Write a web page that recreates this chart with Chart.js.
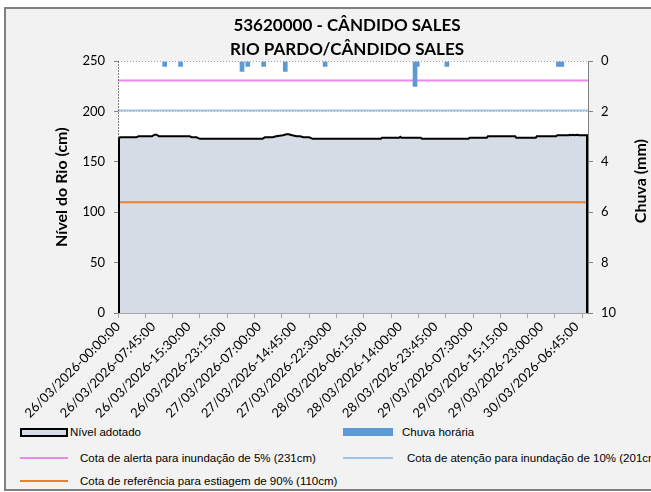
<!DOCTYPE html>
<html><head><meta charset="utf-8">
<script src="https://cdn.jsdelivr.net/npm/chart.js@4"></script>
<style>
body{margin:0;background:#fff;width:651px;height:492px;overflow:hidden;position:relative;font-family:Lato,sans-serif}
#frame{position:absolute;left:4px;top:7px;width:700px;height:480px;border:2px solid #808080;background:#f2f2f2}
#wrap{position:absolute;left:0;top:0;width:694px;height:420px}
.lg{position:absolute;font-family:'Liberation Sans Narrow','Liberation Sans',Arial,sans-serif;font-size:11.5px;color:#000;white-space:nowrap;line-height:12px}
.sw{position:absolute;box-sizing:border-box}
</style></head><body>
<div id="frame"></div>
<div id="wrap"><canvas id="c" width="694" height="420"></canvas></div>
<div id="legend"></div>
<script>
// ---- data ----
const titleLines = ['53620000 - CÂNDIDO SALES', 'RIO PARDO/CÂNDIDO SALES'];
const tickLabels = ['26/03/2026-00:00:00','26/03/2026-07:45:00','26/03/2026-15:30:00','26/03/2026-23:15:00',
  '27/03/2026-07:00:00','27/03/2026-14:45:00','27/03/2026-22:30:00','28/03/2026-06:15:00','28/03/2026-14:00:00',
  '28/03/2026-23:45:00','29/03/2026-07:30:00','29/03/2026-15:15:00','29/03/2026-23:00:00','30/03/2026-06:45:00'];
const labelEvery = 31;      // a label every 31 readings (15-min readings)
const tickMarkEvery = 24;   // a tick mark every 24 readings
const lastIndex = 413;      // index of the last reading

// river level (cm): reading index -> value, at the vertices of the drawn line
const levelIdx = [0,2,16,18,30,32,34,36,63,65,69,72,127,129,136,139,145,148,150,153,157,160,163,168,171,
  231,232,247,248,249,266,267,308,309,324,325,349,350,367,368,385,386,396,397,398,400,401,404,405,413];
const levelVal = [173,174.5,174.5,175.5,175.5,177,177,175.5,175.5,174.5,174.5,173,173,174.5,174.5,175.5,176.5,177.5,177.5,176.5,175.5,175.5,174.5,174.5,173,
  173,174,174,175,174,174,173,173,174,174,175.5,175.5,174,174,175.5,175.5,176.5,176.5,177,176.5,177,176.5,177,176.5,176.5];

// hourly rain (mm)
const rainIdx = [41,55,109,114,128,147,182,261,263,289,387,390];
const rainVal = [0.2,0.2,0.4,0.2,0.2,0.4,0.2,1.0,0.2,0.2,0.2,0.2];

const alertLevel = 231, attentionLevel = 201, droughtLevel = 110;

const legendNames = ['Nível adotado','Chuva horária','Cota de alerta para inundação de 5% (231cm)',
  'Cota de atenção para inundação de 10% (201cm)','Cota de referência para estiagem de 90% (110cm)'];

const C = {area:'#d6dce5', rain:'#5b9bd5', alert:'#ef87ef', attention:'#9dc3e6', drought:'#ed7d31'};

// ---- build ----
const levelData = levelIdx.map((x,i)=>({x, y: levelVal[i]}));
const rainData = rainIdx.map((x,i)=>({x, y: rainVal[i]}));
const hLine = v => [{x:0,y:v},{x:lastIndex,y:v}];

const xTicks = [];
for (let i=0;i<=lastIndex;i++){ if (i%labelEvery===0 || i%tickMarkEvery===0) xTicks.push(i); }

const plug = {
  id:'extras',
  beforeDraw(chart){
    const {ctx, chartArea:a} = chart;
    ctx.save(); ctx.fillStyle='#fff'; ctx.fillRect(a.left,a.top,a.right-a.left,a.bottom-a.top); ctx.restore();
  },
  afterDatasetsDraw(chart){
    const {ctx, chartArea:a} = chart;
    const pts = chart.getDatasetMeta(4).data;
    const f = pts[0], l = pts[pts.length-1];
    const b = chart.scales.y.getPixelForValue(0);
    ctx.save();
    ctx.strokeStyle='#595959'; ctx.lineWidth=1; ctx.setLineDash([1.5,1.5]);
    ctx.beginPath(); ctx.moveTo(a.left+0.5,a.top); ctx.lineTo(a.left+0.5,a.bottom); ctx.stroke();
    ctx.setLineDash([]);
    ctx.strokeStyle='#000'; ctx.lineWidth=2;
    ctx.beginPath(); ctx.moveTo(f.x+1,f.y); ctx.lineTo(f.x+1,b); ctx.stroke();
    ctx.beginPath(); ctx.moveTo(l.x-1,l.y); ctx.lineTo(l.x-1,b); ctx.stroke();
    ctx.restore();
  },
  afterDraw(chart){
    const {ctx, chartArea:a} = chart;
    ctx.save();
    ctx.font='bold 16px Lato'; ctx.fillStyle='#000'; ctx.textAlign='center'; ctx.textBaseline='middle';
    ctx.translate(641,(a.top+a.bottom)/2 - 6); ctx.rotate(-Math.PI/2);
    ctx.fillText('Chuva (mm)',0,0);
    ctx.restore();
  }
};

new Chart(document.getElementById('c'), {
  data: {
    datasets: [
      {type:'bar', label:legendNames[1], data:rainData, yAxisID:'y2', backgroundColor:C.rain, barThickness:4, order:0},
      {type:'line', label:legendNames[2], data:hLine(alertLevel), borderColor:C.alert, borderWidth:2, pointRadius:0, order:1},
      {type:'line', label:legendNames[3], data:hLine(attentionLevel), borderColor:C.attention, borderWidth:2, pointRadius:0, order:1},
      {type:'line', label:legendNames[4], data:hLine(droughtLevel), borderColor:C.drought, borderWidth:2, pointRadius:0, order:1},
      {type:'line', label:legendNames[0], data:levelData, borderColor:'#000', borderWidth:2, backgroundColor:C.area, fill:'origin', pointRadius:0, tension:0, order:2}
    ]
  },
  options: {
    responsive:false, animation:false, events:[],
    layout:{padding:0},
    plugins:{
      legend:{display:false}, tooltip:{enabled:false},
      title:{display:true, text:titleLines, color:'#000', font:{family:'Lato', size:17, weight:'bold', lineHeight:1.42}, padding:{top:13,bottom:0}}
    },
    scales:{
      x:{type:'linear', min:0, max:lastIndex, offset:false,
        afterBuildTicks(s){ s.ticks = xTicks.map(v=>({value:v})); },
        afterFit(s){ s.height = 107; s.paddingLeft = 0; s.paddingRight = 0; },
        ticks:{autoSkip:false, maxRotation:45, minRotation:45, padding:1, color:'#000', font:{family:'Lato', size:13},
          callback(v){ return (v%labelEvery===0) ? tickLabels[v/labelEvery] : ''; }},
        grid:{drawOnChartArea:false, offset:false, tickLength:5, color:(c)=> (c.tick && c.tick.value%tickMarkEvery===0) ? '#a6a6a6' : 'rgba(0,0,0,0)'},
        border:{color:'#a6a6a6', width:1}
      },
      y:{position:'left', min:0, max:250,
        afterFit(s){ s.width = 118; },
        ticks:{stepSize:50, padding:9, color:'#000', font:{family:'Lato', size:13}},
        grid:{color:'#a6a6a6', tickLength:4, tickColor:'#808080'},
        border:{display:false, dash:[1,2]},
        title:{display:true, text:'Nível do Rio (cm)', color:'#000', font:{family:'Lato', size:16, weight:'bold'}, padding:{top:52,bottom:0}}
      },
      y2:{position:'right', min:0, max:10, reverse:true,
        afterFit(s){ s.width = 106; },
        ticks:{stepSize:2, padding:8, color:'#000', font:{family:'Lato', size:13}},
        grid:{drawOnChartArea:false, tickLength:5, color:'#808080'},
        border:{color:'#808080', width:1}
      }
    }
  },
  plugins:[plug]
});

// ---- legend (HTML) ----
const lg = document.getElementById('legend');
const items = [
  {x:20, y:432, w:48, kind:'area', text:legendNames[0], tx:70},
  {x:343, y:432, w:50, kind:'rain', text:legendNames[1], tx:402},
  {x:20, y:458, w:48, kind:'line', color:C.alert, text:legendNames[2], tx:80},
  {x:343, y:458, w:50, kind:'line', color:C.attention, text:legendNames[3], tx:407},
  {x:20, y:481, w:48, kind:'line', color:C.drought, text:legendNames[4], tx:80}
];
items.forEach(it=>{
  const s = document.createElement('div'); s.className='sw';
  if (it.kind==='area'){ Object.assign(s.style,{left:it.x+'px',top:(it.y-4)+'px',width:it.w+'px',height:'9px',background:C.area,border:'2px solid #000'}); }
  else if (it.kind==='rain'){ Object.assign(s.style,{left:it.x+'px',top:(it.y-4)+'px',width:it.w+'px',height:'8px',background:C.rain}); }
  else { Object.assign(s.style,{left:it.x+'px',top:(it.y-1)+'px',width:it.w+'px',height:'2px',background:it.color}); }
  lg.appendChild(s);
  const t = document.createElement('div'); t.className='lg'; t.textContent=it.text;
  Object.assign(t.style,{left:it.tx+'px',top:(it.y-6)+'px'});
  lg.appendChild(t);
});
</script>
</body></html>
